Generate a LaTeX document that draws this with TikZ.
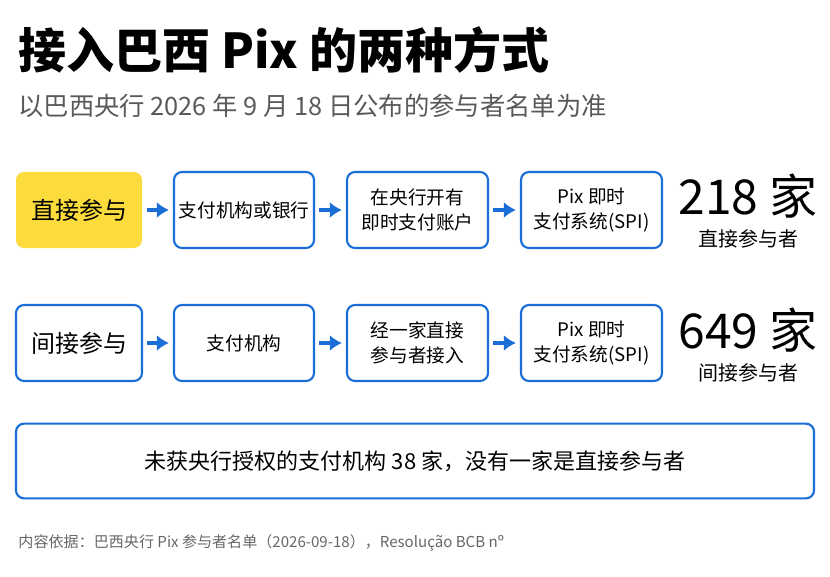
\documentclass[tikz,border=0pt]{standalone}
\usepackage{fontspec}
\setmainfont{Noto Sans CJK SC}
\definecolor{pixblue}{RGB}{26,110,214}
\definecolor{pixyellow}{RGB}{252,220,60}
\usetikzlibrary{arrows.meta}
\tikzset{every picture/.style={line width=0.75pt}}
\tikzset{
  stage/.style={draw=pixblue,line width=1.6pt,rounded corners=6pt,fill=white,align=center,font=\fontsize{14}{19}\selectfont,inner sep=0pt},
  go/.style={-{Latex[length=9pt,width=12pt]},draw=pixblue,line width=3.5pt,shorten <=3pt,shorten >=3pt},
}
\begin{document}
\begin{tikzpicture}[x=0.75pt,y=0.75pt,yscale=-1,xscale=1]
\useasboundingbox (0,0) rectangle (830,577);

% Title
\node (title) [anchor=west,inner sep=0pt,font=\fontsize{36}{40}\selectfont\bfseries] at (18,50) {接入巴西 Pix 的两种方式};
\node (sub) [anchor=west,inner sep=0pt,text=black!65,font=\fontsize{19}{22}\selectfont] at (18,106) {以巴西央行 2026 年 9 月 18 日公布的参与者名单为准};

% Row 1: direct
\node (d1) [stage,draw=none,fill=pixyellow,minimum width=94.5pt,minimum height=57pt,font=\fontsize{18}{22}\selectfont] at (79,210) {直接参与};
\node (d2) [stage,minimum width=105pt,minimum height=57pt] at (244,210) {支付机构或银行};
\node (d3) [stage,minimum width=105.75pt,minimum height=57pt] at (417.5,210) {在央行开有\\即时支付账户};
\node (d4) [stage,minimum width=105.75pt,minimum height=57pt] at (591.5,210) {Pix 即时\\支付系统(SPI)};
\draw[go] (d1) -- (d2);
\draw[go] (d2) -- (d3);
\draw[go] (d3) -- (d4);
\node (dn) [inner sep=0pt,font=\fontsize{36}{40}\selectfont] at (748,196) {218 家};
\node (dl) [inner sep=0pt,font=\fontsize{15}{18}\selectfont] at (748,239) {直接参与者};

% Row 2: indirect
\node (i1) [stage,minimum width=94.5pt,minimum height=57pt,font=\fontsize{18}{22}\selectfont] at (79,343) {间接参与};
\node (i2) [stage,minimum width=105pt,minimum height=57pt] at (244,343) {支付机构};
\node (i3) [stage,minimum width=105.75pt,minimum height=57pt] at (417.5,343) {经一家直接\\参与者接入};
\node (i4) [stage,minimum width=105.75pt,minimum height=57pt] at (591.5,343) {Pix 即时\\支付系统(SPI)};
\draw[go] (i1) -- (i2);
\draw[go] (i2) -- (i3);
\draw[go] (i3) -- (i4);
\node (in) [inner sep=0pt,font=\fontsize{36}{40}\selectfont] at (748,330) {649 家};
\node (il) [inner sep=0pt,font=\fontsize{15}{18}\selectfont] at (748,373) {间接参与者};

% Note
\node (note) [stage,minimum width=598.5pt,minimum height=56pt,font=\fontsize{16.5}{20}\selectfont] at (415,461) {未获央行授权的支付机构 38 家，没有一家是直接参与者};

% Source
\node (src) [anchor=west,inner sep=0pt,text=black!60,font=\fontsize{11.3}{14}\selectfont] at (18,543) {内容依据：巴西央行 Pix 参与者名单（2026-09-18），Resolução BCB nº};
\end{tikzpicture}
\end{document}
